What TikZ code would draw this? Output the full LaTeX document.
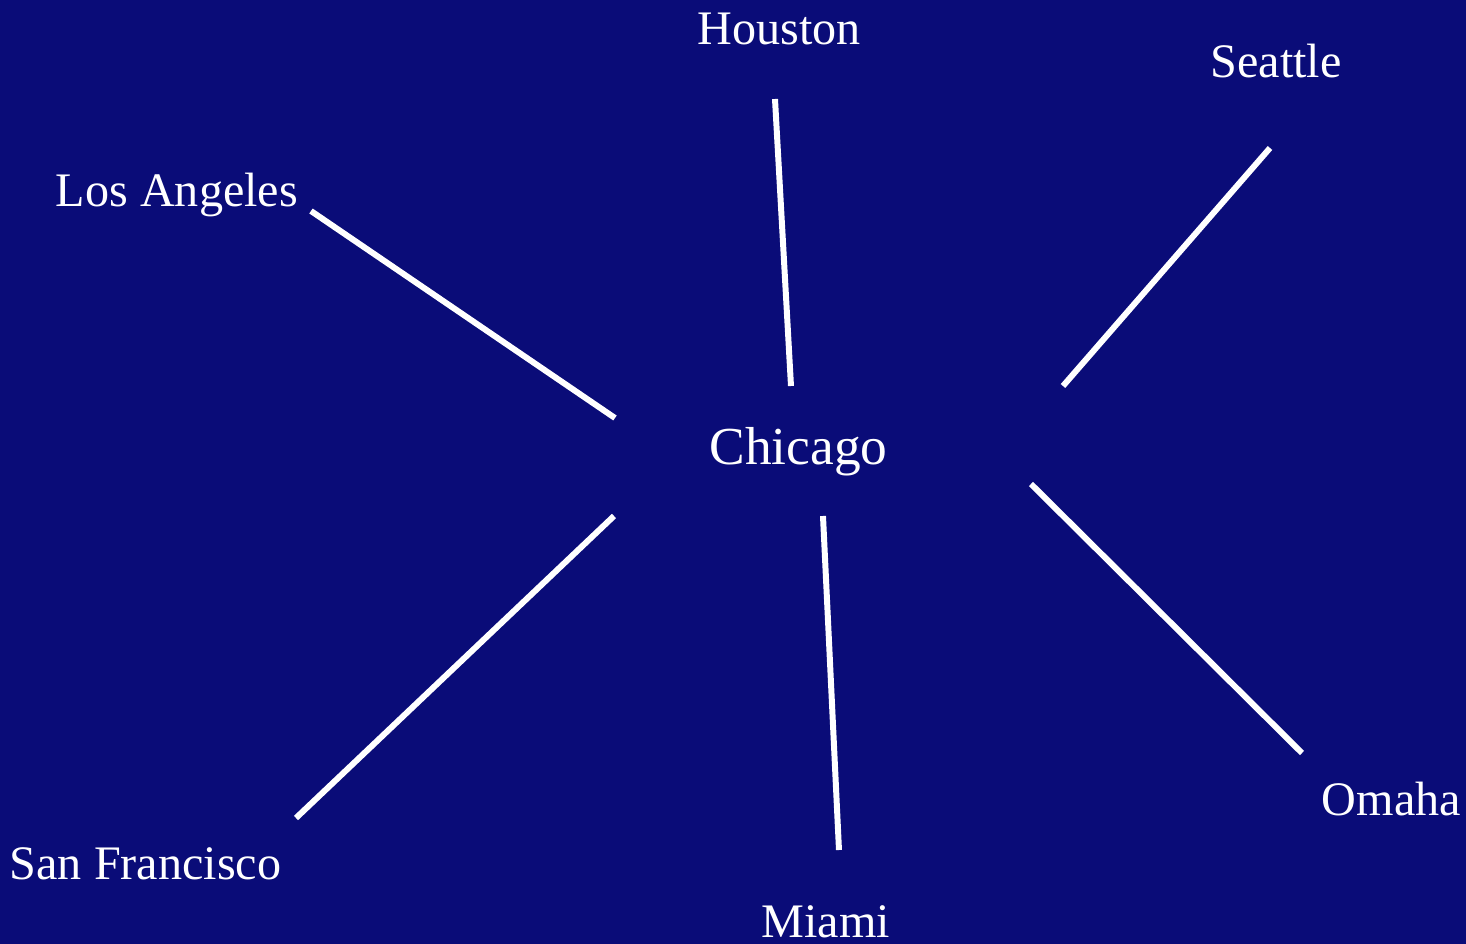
\documentclass[tikz,border=0pt]{standalone}
\usepackage{fontspec}
\setmainfont{Liberation Serif}
\usepackage{tikz}
\usetikzlibrary{positioning}
\usetikzlibrary{calc}

\definecolor{nightblue}{HTML}{0A0C78}

\tikzset{
    city/.style={text=white, font=\fontsize{13.7}{16}\selectfont, anchor=base, inner sep=0pt},
    hub/.style={text=white, font=\fontsize{15.2}{18}\selectfont, anchor=base, inner sep=0pt},
    spoke/.style={draw=white, line width=1.7pt},
}

\begin{document}
\begin{tikzpicture}
    % background
    \fill[nightblue] (-7.985,-4.81) rectangle (6.675,4.63);
    \useasboundingbox (-7.985,-4.81) rectangle (6.675,4.63);

    \node[hub] (chicago) at (0,-0.02) {Chicago};

    % cities
    \node[city] (houston) at (-0.195,4.18) {Houston};
    \node[city] (seattle) at (4.775,3.85) {Seattle};
    \node[city] (la) at (-6.215,2.56) {Los Angeles};
    \node[city] (sf) at (-6.53,-4.16) {San Francisco};
    \node[city] (miami) at (0.275,-4.74) {Miami};
    \node[city] (omaha) at (5.93,-3.52) {Omaha};

    % spoke ends
    \coordinate (la-in) at (-1.835,0.45);
    \coordinate (la-out) at (-4.875,2.52);
    \coordinate (houston-in) at (-0.075,0.77);
    \coordinate (houston-out) at (-0.235,3.64);
    \coordinate (seattle-in) at (2.645,0.77);
    \coordinate (seattle-out) at (4.715,3.15);
    \coordinate (omaha-in) at (2.325,-0.21);
    \coordinate (omaha-out) at (5.035,-2.90);
    \coordinate (miami-in) at (0.245,-0.53);
    \coordinate (miami-out) at (0.405,-3.87);
    \coordinate (sf-in) at (-1.845,-0.53);
    \coordinate (sf-out) at (-5.025,-3.55);

    \draw[spoke] (la-in) -- (la-out);
    \draw[spoke] (houston-in) -- (houston-out);
    \draw[spoke] (seattle-in) -- (seattle-out);
    \draw[spoke] (omaha-in) -- (omaha-out);
    \draw[spoke] (miami-in) -- (miami-out);
    \draw[spoke] (sf-in) -- (sf-out);
\end{tikzpicture}
\end{document}
